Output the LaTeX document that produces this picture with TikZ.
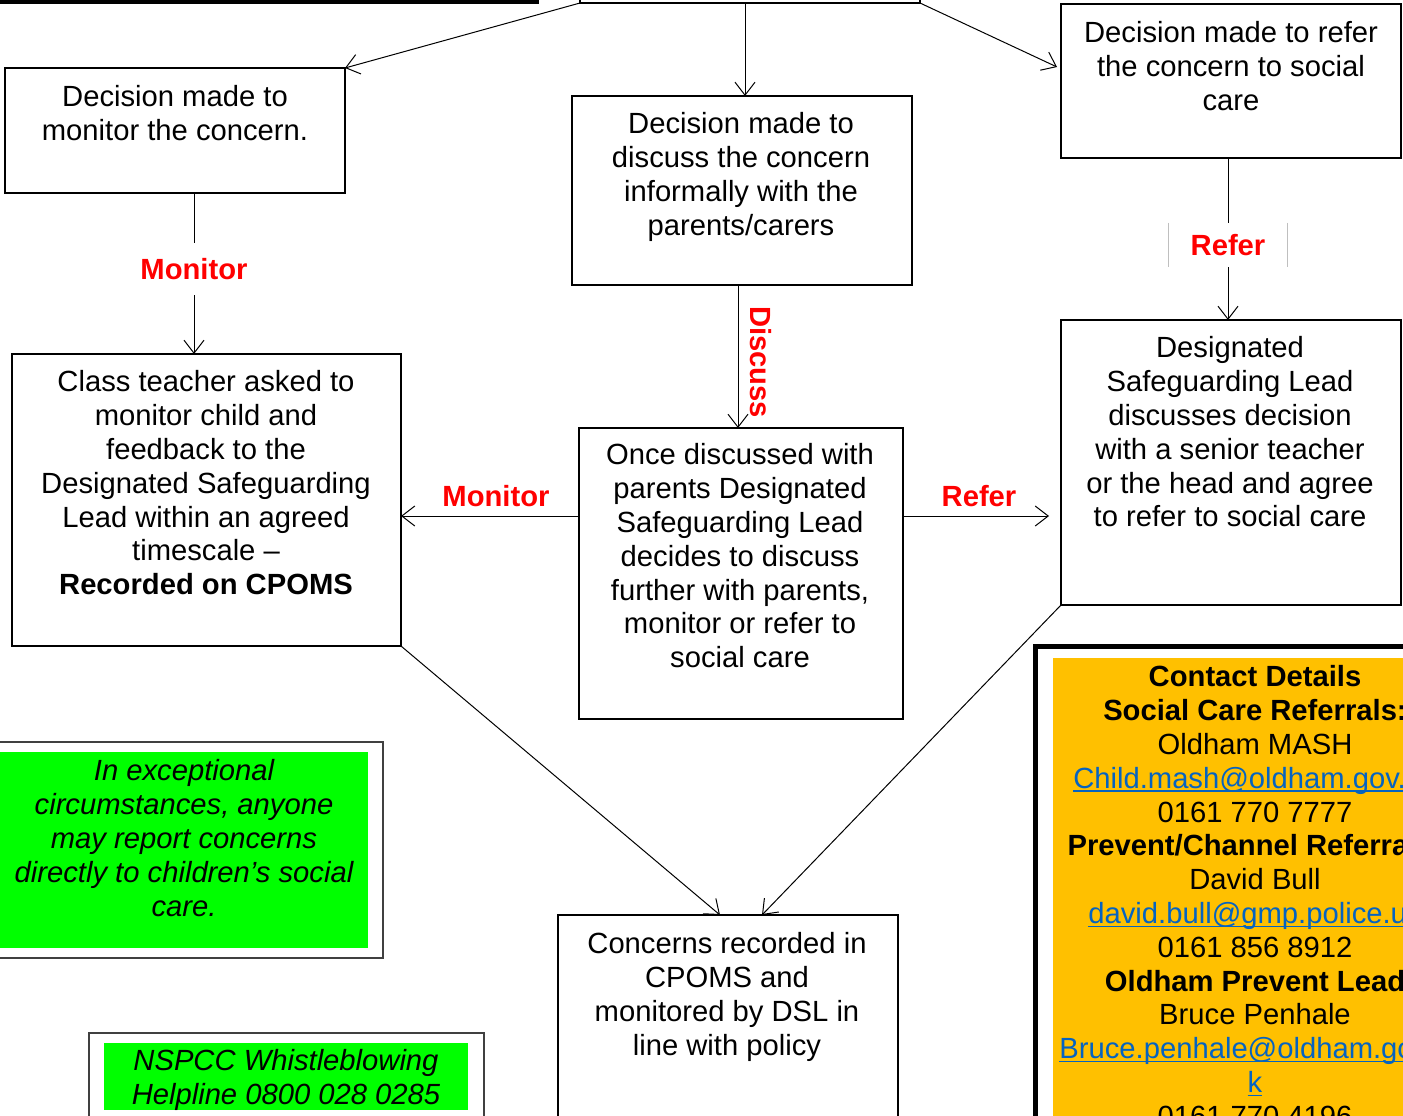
\documentclass[tikz,border=0pt]{standalone}
\usepackage{fontspec}
\setmainfont{Liberation Sans}
\usetikzlibrary{arrows.meta,calc}
\definecolor{lgreen}{HTML}{00FF00}
\definecolor{cyellow}{HTML}{FFC000}
\definecolor{linkblue}{HTML}{0563C1}
\newcommand{\fsz}{\fontsize{29.2bp}{33.8bp}\selectfont}
\newcommand{\lnk}[1]{\textcolor{linkblue}{\setbox0\hbox{#1}\rlap{\rule[-3.5bp]{\wd0}{1.4bp}}\box0}}
\begin{document}
\begin{tikzpicture}[x=1bp,y=-1bp,
  box/.style={draw=black, line width=1.2bp, inner sep=0pt, outer sep=0pt},
  frame/.style={draw=black!75, line width=1.4bp, inner sep=0pt, outer sep=0pt},
  fillbox/.style={inner sep=0pt, outer sep=0pt},
  txt/.style={align=center, inner sep=0pt, anchor=north, font=\fsz},
  lab/.style={text=red, font=\fsz\bfseries, inner sep=0pt},
  arr/.style={line width=1bp, -{Straight Barb[length=13bp,width=20bp]}},
  con/.style={line width=1bp}]
\useasboundingbox (0,0) rectangle (1403,1115);
\clip (0,0) rectangle (1403,1115);
\fill[white] (0,0) rectangle (1403,1115);

% partial boxes at the top
\node[box, line width=4bp, minimum width=557bp, minimum height=101.5bp] (TL) at (258.5,-49.25) {};
\node[box, minimum width=340bp, minimum height=103bp] (T) at (750,-48.5) {};

% main boxes
\node[box, minimum width=340bp, minimum height=125bp] (A) at (175,130.5) {};
\node[box, minimum width=340bp, minimum height=189bp] (B) at (742,190.5) {};
\node[box, minimum width=340bp, minimum height=154bp] (C) at (1231,81) {};
\node[box, minimum width=389bp, minimum height=292bp] (D) at (206.5,500) {};
\node[box, minimum width=324bp, minimum height=291bp] (E) at (741,573.5) {};
\node[box, minimum width=340bp, minimum height=285bp] (F) at (1231,462.5) {};
\node[box, minimum width=340bp, minimum height=285bp] (G) at (728,1057.5) {};

% texts in boxes
\node[txt] (At) at (175,85.5) {Decision made to\\monitor the concern.};
\node[txt] (Bt) at (741,112.5) {Decision made to\\discuss the concern\\informally with the\\parents/carers};
\node[txt] (Ct) at (1231,21.5) {Decision made to refer\\the concern to social\\care};
\node[txt] (Dt) at (206,370.5) {Class teacher asked to\\monitor child and\\feedback to the\\Designated Safeguarding\\Lead within an agreed\\timescale --\\\textbf{Recorded on CPOMS}};
\node[txt] (Et) at (740,443.5) {Once discussed with\\parents Designated\\Safeguarding Lead\\decides to discuss\\further with parents,\\monitor or refer to\\social care};
\node[txt] (Ft) at (1230,336.5) {Designated\\Safeguarding Lead\\discusses decision\\with a senior teacher\\or the head and agree\\to refer to social care};
\node[txt] (Gt) at (727,932.5) {Concerns recorded in\\CPOMS and\\monitored by DSL in\\line with policy};

% green notes
\node[frame, minimum width=393bp, minimum height=216bp] (N1) at (186.5,850) {};
\node[fillbox, fill=lgreen, minimum width=373bp, minimum height=196bp] (N1f) at (181.5,850) {};
\node[txt, font=\fsz\itshape] (N1t) at (184,759.5) {In exceptional\\circumstances, anyone\\may report concerns\\directly to children’s social\\care.};
\node[frame, minimum width=395bp, minimum height=167bp] (N2) at (286.5,1116.5) {};
\node[fillbox, fill=lgreen, minimum width=364bp, minimum height=67bp] (N2f) at (286,1076.5) {};
\node[txt, font=\fsz\itshape] (N2t) at (286,1049.5) {NSPCC Whistleblowing\\Helpline 0800 028 0285};

% contact box
\node[box, line width=5bp, minimum width=465bp, minimum height=654bp] (K) at (1267.5,973) {};
\node[fillbox, fill=cyellow, minimum width=447bp, minimum height=642bp] (Kf) at (1276.5,979) {};
\node[txt] (Kt) at (1255,665.5) {\textbf{Contact Details}\\\textbf{Social Care Referrals:}\\Oldham MASH\\\lnk{Child.mash@oldham.gov.uk}\\0161 770 7777\\\textbf{Prevent/Channel Referrals:}\\David Bull\\\lnk{david.bull@gmp.police.uk}\\0161 856 8912\\\textbf{Oldham Prevent Lead}\\Bruce Penhale\\\lnk{Bruce.penhale@oldham.gov.u}\\\lnk{k}\\0161 770 4196};

% labels
\node[lab, minimum height=52bp] (M1) at (194,269) {Monitor};
\node[lab, minimum width=119bp, minimum height=44bp] (R1) at (1228,245) {Refer};
\draw[black!25, line width=1bp] (R1.north west) -- (R1.south west) (R1.north east) -- (R1.south east);
\node[lab, rotate=-90] (DL) at (761,362) {Discuss};
\node[lab] (M2) at (496,496) {Monitor};
\node[lab] (R2) at (979,496) {Refer};

% connectors
\coordinate (tx) at (745,0);
\coordinate (bx) at (738,0);
\coordinate (my) at (0,516);
\draw[arr] (T.south west) -- (A.north east);
\draw[arr] (T.south -| tx) -- (B.north -| tx);
\draw[arr] (T.south east) -- ($(C.north west)+(-4,63)$);
\draw[con] (M1.north |- A.south) -- (M1.north);
\draw[arr] (M1.south) -- (M1.south |- D.north);
\draw[arr] (B.south -| bx) -- (E.north -| bx);
\draw[con] (R1.north |- C.south) -- (R1.north);
\draw[arr] (R1.south) -- (R1.south |- F.north);
\draw[arr] (E.west |- my) -- (D.east |- my);
\draw[arr] (E.east |- my) -- ($(F.west |- my)+(-12,0)$);
\draw[arr] (D.south east) -- ($(G.north)+(-8,0)$);
\draw[arr] (F.south west) -- ($(G.north)+(34,0)$);
\end{tikzpicture}
\end{document}
